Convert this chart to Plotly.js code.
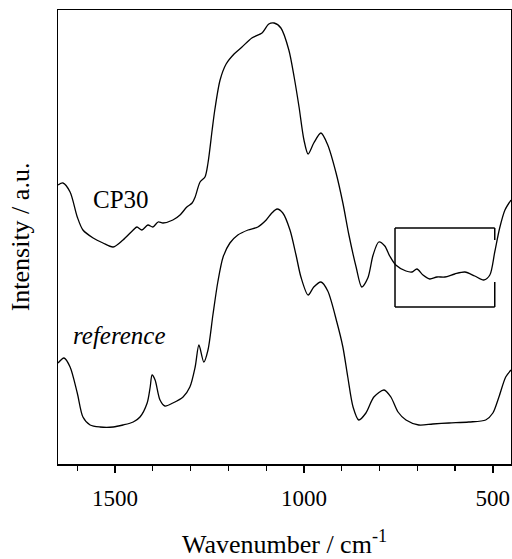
<!DOCTYPE html>
<html>
<head>
<meta charset="utf-8">
<script src="https://cdn.plot.ly/plotly-3.0.1.min.js"></script>
<style>html,body{margin:0;padding:0;background:#fff;}#chart{width:512px;height:559px;}</style>
</head>
<body>
<div id="chart"></div>
<script>
// Wavenumbers (cm^-1) and intensities (a.u.)
const cp30Wavenumber = [1651,1638,1619,1600,1585,1558,1532,1505,1479,1452,1442,1429,1413,1400,1386,1373,1347,1328,1310,1296,1288,1275,1262,1254,1243,1236,1222,1206,1185,1164,1138,1111,1093,1079,1061,1040,1026,1013,1000,989,974,955,937,915,897,881,862,847,831,817,802,786,773,757,730,714,701,685,667,648,627,601,574,548,524,508,495,482,468,452];
const cp30Intensity = [279,281,272,247,234,226,221,217,224,234,237,234,239,237,242,241,244,249,257,261,267,282,287,301,334,354,384,400,410,417,426,431,440,441,436,414,387,357,324,310,321,331,319,291,261,229,197,177,186,209,222,218,208,199,193,192,195,189,185,187,187,190,192,188,184,189,212,236,254,264];

const refWavenumber = [1651,1635,1619,1600,1585,1566,1540,1505,1479,1452,1434,1415,1407,1402,1394,1381,1368,1347,1320,1302,1288,1278,1265,1254,1241,1228,1214,1196,1175,1148,1122,1100,1085,1071,1056,1037,1021,1008,989,974,955,937,913,897,884,870,855,836,815,788,770,751,730,696,659,616,564,519,500,484,466,452];
const refIntensity = [101,106,97,71,47,39,37,37,39,42,47,61,77,89,84,64,58,61,67,77,97,119,102,114,149,182,207,221,229,234,237,244,251,255,251,234,209,187,169,177,182,173,142,117,87,57,44,51,67,74,67,52,44,39,40,41,42,44,51,67,87,94];

const seriesLabels = ["CP30", "reference"];
const xTickValues = [1500, 1000, 500];

const serif = "Liberation Serif, Times New Roman, serif";

const traces = [
  {x: cp30Wavenumber, y: cp30Intensity, name: seriesLabels[0], mode: "lines",
   line: {color: "#000", width: 1.3, shape: "spline", smoothing: 0.8}, hoverinfo: "skip"},
  {x: refWavenumber, y: refIntensity, name: seriesLabels[1], mode: "lines",
   line: {color: "#000", width: 1.3, shape: "spline", smoothing: 0.8}, hoverinfo: "skip"}
];

const boxLine = {color: "#000", width: 1.5};
const layout = {
  width: 512, height: 559,
  margin: {l: 58, r: 1, t: 10, b: 95},
  paper_bgcolor: "#fff", plot_bgcolor: "#fff",
  showlegend: false,
  font: {family: serif, color: "#000", size: 22},
  xaxis: {
    range: [1651, 452], showgrid: false, zeroline: false,
    showline: true, mirror: true, linecolor: "#000", linewidth: 1.5,
    tickmode: "array", tickvals: xTickValues, ticktext: xTickValues.map(String),
    ticks: "outside", ticklen: 7, tickwidth: 1.5, tickcolor: "#000",
    ticklabelstandoff: 6,
    minor: {dtick: 100, tick0: 0, ticks: "outside", ticklen: 5, tickwidth: 1.2, tickcolor: "#000"},
    tickfont: {family: serif, size: 23, color: "#000"},
    title: {text: "Wavenumber / cm<sup>-1</sup>", font: {family: serif, size: 26, color: "#000"}, standoff: 24}
  },
  yaxis: {
    range: [0, 454], showgrid: false, zeroline: false,
    showline: true, mirror: true, linecolor: "#000", linewidth: 1.5,
    showticklabels: false, ticks: "",
    title: {text: "Intensity / a.u.", font: {family: serif, size: 26, color: "#000"}, standoff: 19}
  },
  annotations: [
    {x: 1484, y: 265, xref: "x", yref: "y", text: seriesLabels[0], showarrow: false,
     font: {family: serif, size: 25, color: "#000"}},
    {x: 1487, y: 129, xref: "x", yref: "y", text: "<i>" + seriesLabels[1] + "</i>", showarrow: false,
     font: {family: serif, size: 25, color: "#000"}}
  ],
  shapes: [
    {type: "line", xref: "x", yref: "y", x0: 759, x1: 759, y0: 157, y1: 236, line: boxLine},
    {type: "line", xref: "x", yref: "y", x0: 759, x1: 495, y0: 236, y1: 236, line: boxLine},
    {type: "line", xref: "x", yref: "y", x0: 759, x1: 495, y0: 157, y1: 157, line: boxLine},
    {type: "line", xref: "x", yref: "y", x0: 495, x1: 495, y0: 224, y1: 236, line: boxLine},
    {type: "line", xref: "x", yref: "y", x0: 495, x1: 495, y0: 157, y1: 182, line: boxLine}
  ]
};

Plotly.newPlot("chart", traces, layout, {staticPlot: true, displayModeBar: false});
</script>
</body>
</html>
